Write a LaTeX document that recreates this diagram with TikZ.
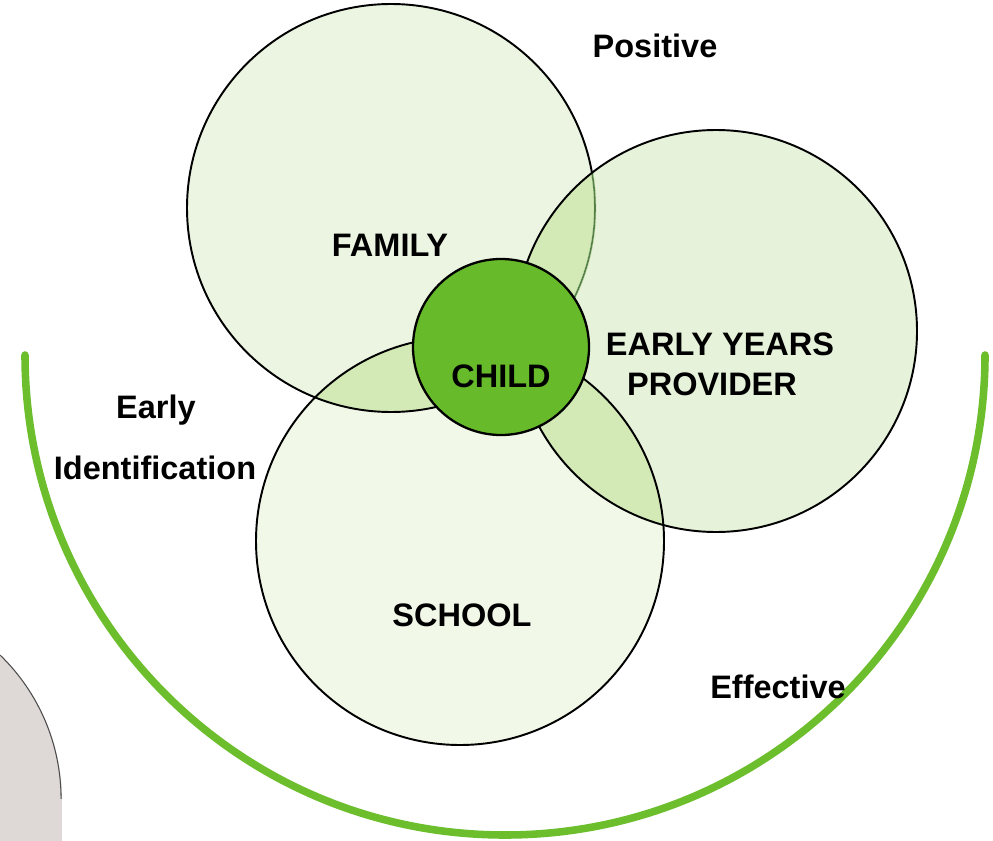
\documentclass[tikz,border=0pt]{standalone}
\usepackage{fontspec}
\setmainfont{Liberation Sans}
\usepackage{tikz}

\definecolor{famfill}{RGB}{235,245,225}
\definecolor{eypfill}{RGB}{230,243,218}
\definecolor{schfill}{RGB}{241,248,231}
\definecolor{lensfill}{RGB}{211,234,182}
\definecolor{childfill}{RGB}{103,187,43}
\definecolor{arcgreen}{RGB}{108,190,45}
\definecolor{greyfill}{RGB}{222,216,214}

\tikzset{
	ring/.style={draw=black, line width=1.1pt},
	lbl/.style={font=\fontsize{18.5}{22}\selectfont\bfseries, inner sep=0pt},
}

\begin{document}
\begin{tikzpicture}[x=0.02cm, y=-0.02cm]
		\useasboundingbox (0, 0) rectangle (993, 841);
		\coordinate (F) at (391, 208);
		\coordinate (E) at (716, 331);
		\coordinate (S) at (460, 541);
		\coordinate (Ch) at (501, 347);

		% sfondo grigio
		\begin{scope}
			\clip (0, 0) rectangle (993, 841);
			\fill[greyfill] (-138, 800) circle[radius=200];
			\fill[greyfill] (-138, 800) rectangle (62, 841);
			\draw[black!70, line width=0.6pt] (0, 655) arc[start angle=-46, end angle=0, radius=200];
		\end{scope}

		% arco
		\draw[arcgreen, line width=4.3pt, line cap=round] (25, 355) arc[start angle=180, end angle=0, radius=480];

		% cerchi
		\fill[famfill] (F) circle[radius=204];
		\fill[eypfill] (E) circle[radius=201];
		\fill[schfill] (S) circle[radius=204];

		% intersezioni
		\begin{scope}
			\clip (F) circle[radius=204];
			\fill[lensfill] (E) circle[radius=201];
			\fill[lensfill] (S) circle[radius=204];
		\end{scope}
		\begin{scope}
			\clip (E) circle[radius=201];
			\fill[lensfill] (S) circle[radius=204];
		\end{scope}

		\draw[ring] (F) circle[radius=204];
		\begin{scope}
			\clip (E) circle[radius=201];
			\draw[lensfill, line width=1.6pt] (F) circle[radius=204];
			\draw[black!45!green!40!black, line width=0.9pt, opacity=0.6] (F) circle[radius=204];
		\end{scope}
		\draw[ring] (E) circle[radius=201];
		\draw[ring] (S) circle[radius=204];

		\node[circle, draw=black, line width=1.3pt, fill=childfill, minimum size=176*0.02cm, inner sep=0pt] (child) at (Ch) {};

		% testi
		\node[lbl] (family) at (390, 245) {FAMILY};
		\node[lbl] (childlbl) at (501, 376) {CHILD};
		\node[lbl] (eyp1) at (720, 344) {EARLY YEARS};
		\node[lbl] (eyp2) at (712, 384) {PROVIDER};
		\node[lbl] (school) at (462, 615) {SCHOOL};
		\node[lbl] (positive) at (655, 46) {Positive};
		\node[lbl] (early) at (156, 410) {Early};
		\node[lbl] (ident) at (155, 468) {Identification};
		\node[lbl] (effective) at (778, 687) {Effective};
	\end{tikzpicture}
\end{document}
